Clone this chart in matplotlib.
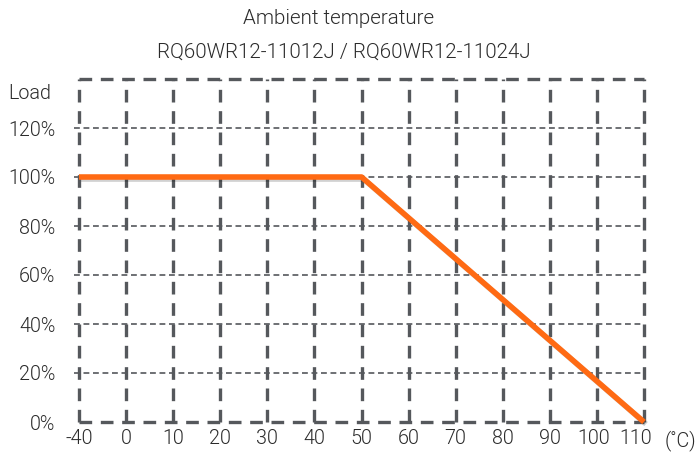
import numpy as np
import matplotlib
matplotlib.use('Agg')
import matplotlib.pyplot as plt
import matplotlib.patheffects as pe
import matplotlib.transforms as mtransforms

plt.rcParams['font.family'] = ['Roboto', 'DejaVu Sans']
plt.rcParams['font.weight'] = 300

temps = [-40, 0, 10, 20, 30, 40, 50, 60, 70, 80, 90, 100, 110]
load_ticks = [0, 20, 40, 60, 80, 100, 120]
curve_temps = [-40, 50, 110]
curve_load = [100, 100, 0]

title = 'Ambient temperature'
subtitle = 'RQ60WR12-11012J / RQ60WR12-11024J'

grid_col = '#55585c'
line_col = '#ff6a13'
text_col = '#2b2b2b'
fs = 14.2

fig = plt.figure(figsize=(6.97, 4.55), dpi=100)
ax = fig.add_axes([79 / 697, 33 / 455, (644 - 79) / 697, (422 - 79) / 455])

pos = np.arange(len(temps))
xmax = pos[-1]
ymax = 140

ax.set_xlim(0, xmax)
ax.set_ylim(0, ymax)
for s in ax.spines.values():
    s.set_visible(False)

# inner horizontal grid (thin, short dash)
for y in load_ticks[1:]:
    ax.plot([-0.1, xmax], [y, y], color=grid_col, lw=1.2, dashes=(3.5, 2.2), clip_on=False, zorder=1)

# vertical grid + left/right border (thick dash)
for x in pos:
    ax.plot([x, x], [0, ymax], color=grid_col, lw=2.4, dashes=(3.8, 2.6), clip_on=False, zorder=2)

# top / bottom border
for y in [0, ymax]:
    ax.plot([0, xmax], [y, y], color=grid_col, lw=2.4, dashes=(3.8, 2.6), clip_on=False, zorder=2)

cx = [temps.index(t) for t in curve_temps]
ax.plot(cx, curve_load, color=line_col, lw=4, solid_capstyle='butt', zorder=5, clip_on=False,
        path_effects=[pe.SimpleLineShadow(offset=(1.5, -1.5), alpha=0.18, shadow_color='black'), pe.Normal()])

ax.set_xticks(pos)
ax.set_xticklabels([str(t) for t in temps])
ax.set_yticks(load_ticks)
ax.set_yticklabels([f'{v}%' for v in load_ticks])
ax.tick_params(axis='both', length=0, labelsize=fs, colors=text_col)
ax.tick_params(axis='y', pad=17)
ax.tick_params(axis='x', pad=5)

# nudge the last x labels so the unit fits beside them
for i, dx in [(-2, -3), (-1, -8)]:
    lbl = ax.get_xticklabels()[i]
    lbl.set_transform(lbl.get_transform() + mtransforms.ScaledTranslation(dx / 100, 0, fig.dpi_scale_trans))

ax.text(-0.6, 134, 'Load', ha='right', va='center', fontsize=fs, color=text_col)
fig.text(696 / 697, 1 - 430 / 455, '(˚C)', ha='right', va='top', fontsize=fs, color=text_col)

fig.text(339 / 697, 1 - 18 / 455, title, ha='center', va='center', fontsize=fs + 0.6, color=text_col)
fig.text(344 / 697, 1 - 52 / 455, subtitle, ha='center', va='center', fontsize=fs + 0.6, color=text_col)

fig.savefig('out.png', dpi=100)
